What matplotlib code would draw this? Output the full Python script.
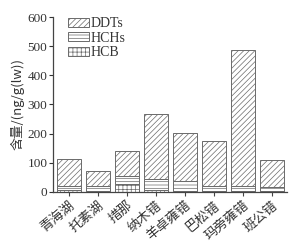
import matplotlib
matplotlib.use("Agg")
import matplotlib.pyplot as plt
import numpy as np

plt.rcParams['font.family'] = ['Liberation Serif', 'Noto Sans CJK SC']
plt.rcParams['hatch.linewidth'] = 0.5
plt.rcParams['hatch.color'] = '#777777'

lakes = ['青海湖', '托素湖', '措那', '纳木错', '羊卓雍错', '巴松错', '玛旁雍错', '班公错']
hcb = [8, 5, 27, 8, 5, 3, 3, 3]
hchs = [12, 15, 28, 38, 32, 19, 19, 15]
ddts = [92, 51, 85, 220, 164, 154, 464, 92]

fig = plt.figure(figsize=(3.02, 2.43), dpi=100)
ax = fig.add_axes([0.1755, 0.21, 0.775, 0.72])

x = np.arange(len(lakes))
w = 0.83
ec = '#6a6a6a'
b1 = ax.bar(x, hcb, w, color='white', edgecolor=ec, hatch='++++', linewidth=0.7, label='HCB')
b2 = ax.bar(x, hchs, w, bottom=hcb, color='white', edgecolor=ec, hatch='-----', linewidth=0.7, label='HCHs')
bot = np.array(hcb) + np.array(hchs)
b3 = ax.bar(x, ddts, w, bottom=bot, color='white', edgecolor=ec, hatch='//////', linewidth=0.7, label='DDTs')

ax.set_xlim(-0.55, len(lakes) - 0.48)
ax.set_ylim(0, 600)
ax.set_yticks(range(0, 601, 100))
ax.set_xticks(x)
ax.set_xticklabels(lakes, rotation=40, ha='right', rotation_mode='anchor',
                   family=['Noto Sans CJK SC'], fontsize=9.5, color='#333333')
ax.tick_params(axis='x', length=3, width=0.8, pad=2, colors='#444444')
ax.tick_params(axis='y', length=3, width=0.8, labelsize=9.5, colors='#333333', pad=1)
for lbl in ax.get_xticklabels():
    lbl.set_color('#333333')
for s in ['top', 'right']:
    ax.spines[s].set_visible(False)
for s in ['left', 'bottom']:
    ax.spines[s].set_color('#444444')
    ax.spines[s].set_linewidth(0.9)

ax.set_ylabel('含量/(ng/g(lw))', family=['Noto Sans CJK SC', 'Liberation Serif'],
              fontsize=9.5, color='#333333', labelpad=2)

leg = ax.legend(handles=[b3, b2, b1], loc='upper left', bbox_to_anchor=(0.064, 1.0),
                frameon=False, fontsize=10, handlelength=1.5, handleheight=0.6,
                labelspacing=0.12, handletextpad=0.1, borderaxespad=0, borderpad=0)
for t in leg.get_texts():
    t.set_color('#333333')

fig.savefig('out.png', dpi=100)
